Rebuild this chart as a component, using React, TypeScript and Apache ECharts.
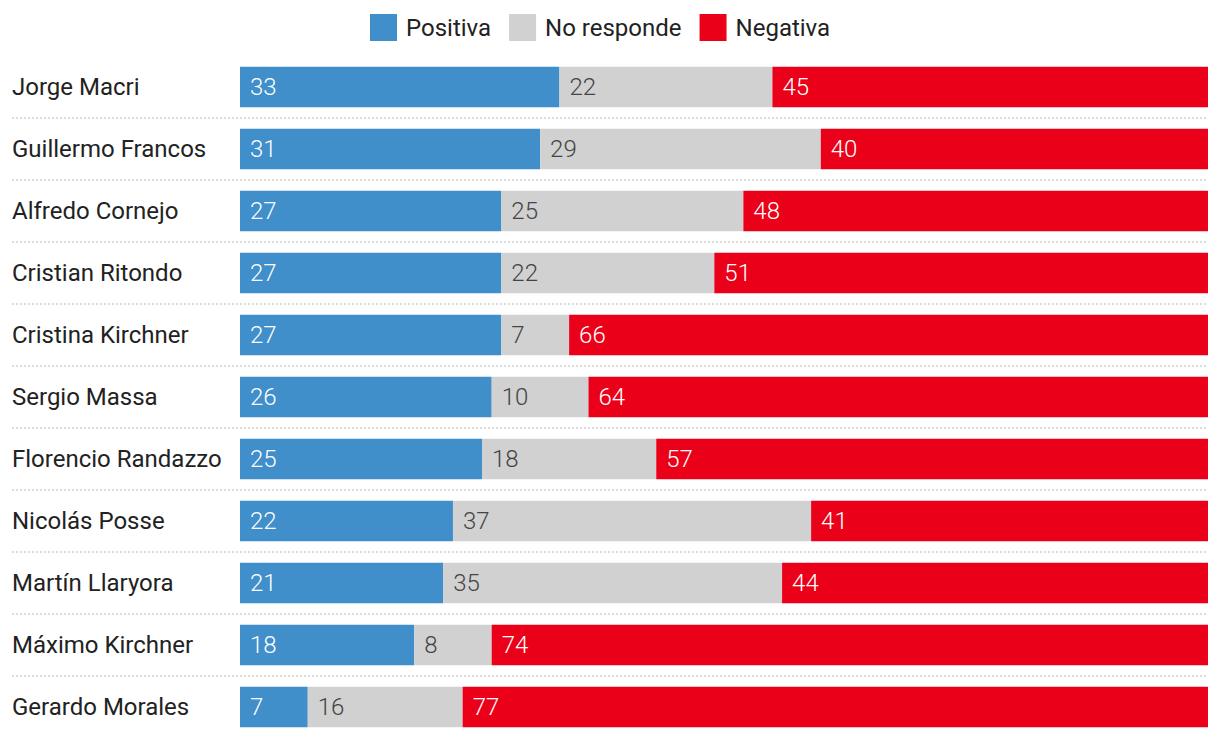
import React, { useEffect, useRef } from "react";
import * as echarts from "echarts";

const categories = [
  "Jorge Macri",
  "Guillermo Francos",
  "Alfredo Cornejo",
  "Cristian Ritondo",
  "Cristina Kirchner",
  "Sergio Massa",
  "Florencio Randazzo",
  "Nicolás Posse",
  "Martín Llaryora",
  "Máximo Kirchner",
  "Gerardo Morales",
];
const positiva = [33, 31, 27, 27, 27, 26, 25, 22, 21, 18, 7];
const noResponde = [22, 29, 25, 22, 7, 10, 18, 37, 35, 8, 16];
const negativa = [45, 40, 48, 51, 66, 64, 57, 41, 44, 74, 77];

const FONT = "Roboto";

export default function App() {
  const ref = useRef<HTMLDivElement>(null);
  useEffect(() => {
    if (!ref.current) return;
    const chart = echarts.init(ref.current, undefined, { renderer: "svg" });
    const mkSeries = (name: string, data: number[], color: string, labelColor: string) => ({
      name,
      type: "bar",
      stack: "total",
      xAxisIndex: 0,
      yAxisIndex: 0,
      barWidth: "65%",
      data,
      itemStyle: { color },
      emphasis: { disabled: true },
      label: {
        show: true,
        position: "insideLeft",
        distance: 10,
        color: labelColor,
        fontFamily: FONT,
        fontSize: 24,
        fontWeight: 300,
      },
    });
    chart.setOption({
      animation: false,
      textStyle: { fontFamily: FONT },
      legend: {
        top: 14,
        padding: 0,
        left: 370,
        itemWidth: 27,
        itemHeight: 27,
        itemGap: 18,
        icon: "rect",
        textStyle: { fontFamily: FONT, fontSize: 24, color: "#222", padding: [0, 0, 0, 4] },
        data: ["Positiva", "No responde", "Negativa"],
      },
      grid: [
        { left: 240, right: 12, top: 56, bottom: 2 },
        { left: 12, right: 12, top: 56, bottom: 2 },
      ],
      xAxis: [
        { type: "value", min: 0, max: 100, show: false, gridIndex: 0 },
        { type: "value", min: 0, max: 100, show: false, gridIndex: 1 },
      ],
      yAxis: [
        {
          type: "category",
          gridIndex: 0,
          data: categories,
          inverse: true,
          axisLine: { show: false },
          axisTick: { show: false },
          splitLine: { show: false },
          axisLabel: {
            align: "left",
            margin: 228,
            color: "#222",
            fontFamily: FONT,
            fontSize: 24,
          },
        },
        {
          type: "category",
          gridIndex: 1,
          data: categories,
          inverse: true,
          axisLine: { show: false },
          axisTick: { show: false },
          axisLabel: { show: false },
          splitLine: {
            show: true,
            showMinLine: false,
            showMaxLine: false,
            lineStyle: { color: "#cfcfcf", type: [2, 2], width: 1.5 },
          },
        },
      ],
      series: [
        mkSeries("Positiva", positiva, "#408ECA", "#ffffff"),
        mkSeries("No responde", noResponde, "#D1D1D1", "#444444"),
        mkSeries("Negativa", negativa, "#EB001A", "#ffffff"),
      ],
    });
    return () => chart.dispose();
  }, []);
  return (
    <div
      ref={ref}
      style={{ position: "fixed", left: 0, top: 0, width: 1220, height: 740, background: "#fff" }}
    />
  );
}
